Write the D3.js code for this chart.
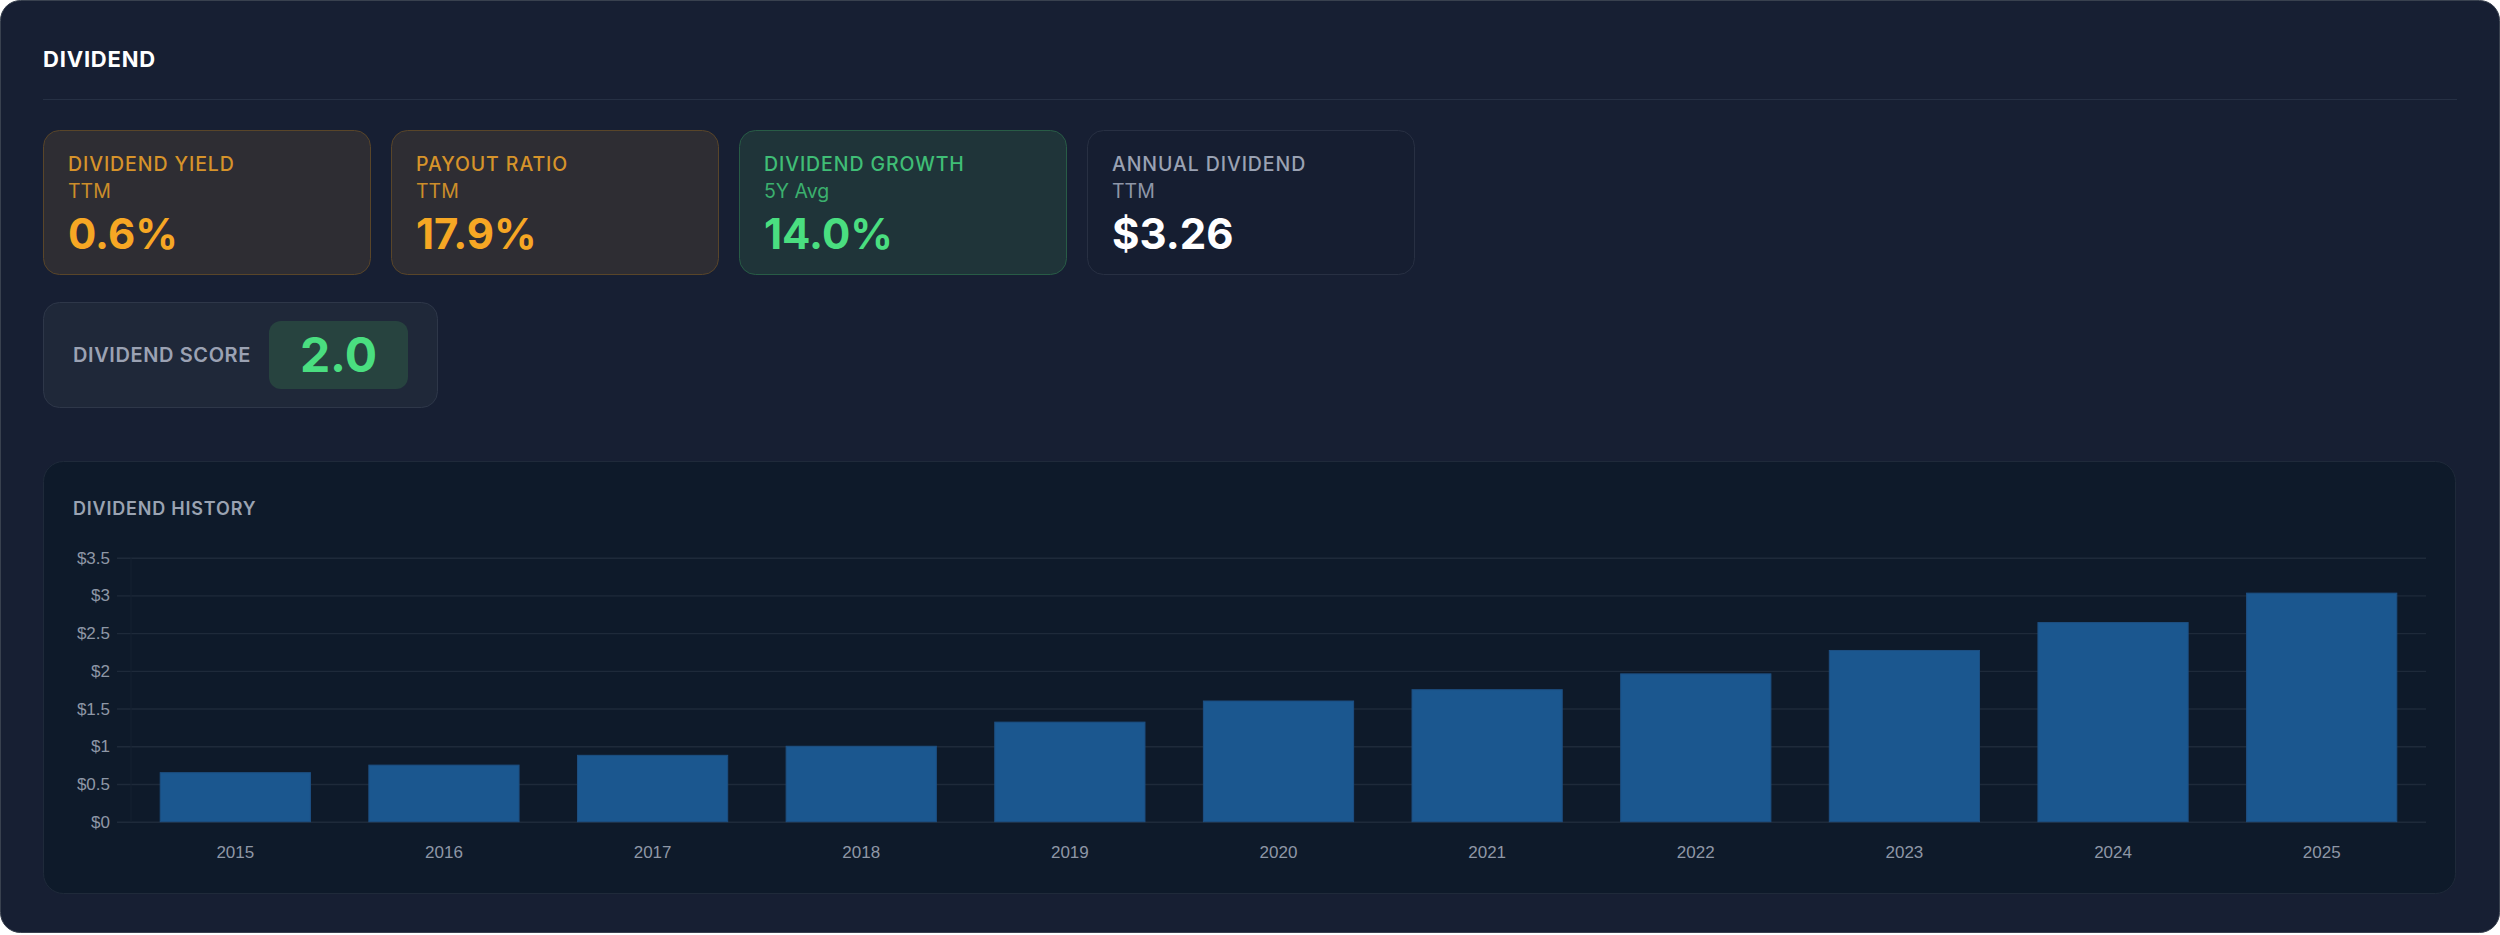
<!DOCTYPE html>
<html>
<head>
<meta charset="utf-8">
<script src="https://cdn.jsdelivr.net/npm/d3@7.9.0/dist/d3.min.js"></script>
<style>
  html, body { margin: 0; padding: 0; background: #ffffff; }
  svg { display: block; }
  .ui { font-family: Inter, "Noto Sans", sans-serif; }
  .axis { font-family: "Liberation Sans", Arial, sans-serif; }
</style>
</head>
<body>
<div id="chart"></div>
<script>
// Chart data
const years = ['2015', '2016', '2017', '2018', '2019', '2020', '2021', '2022', '2023', '2024', '2025'];
const dividends = [0.65, 0.75, 0.88, 1.00, 1.32, 1.60, 1.75, 1.96, 2.27, 2.64, 3.03];
const yTicks = [0, 0.5, 1, 1.5, 2, 2.5, 3, 3.5];

// Metric cards
const metricLabels = ['DIVIDEND YIELD', 'PAYOUT RATIO', 'DIVIDEND GROWTH', 'ANNUAL DIVIDEND'];
const metricSubs = ['TTM', 'TTM', '5Y Avg', 'TTM'];
const metricValues = ['0.6%', '17.9%', '14.0%', '$3.26'];
const metricTones = ['amber', 'amber', 'green', 'neutral'];

const scoreLabel = 'DIVIDEND SCORE';
const scoreValue = '2.0';

const tones = {
  amber:   { bg: '#2e2d33', border: '#594529', label: '#d6932a', sub: '#cc8d2a', value: '#f6a724' },
  green:   { bg: '#1f3439', border: '#285c46', label: '#3fbe76', sub: '#3bb06e', value: '#4ade80' },
  neutral: { bg: '#161e31', border: '#283043', label: '#9aa2b3', sub: '#8e96a7', value: '#ffffff' }
};

const width = 2500;
const height = 935;

const svg = d3.select('#chart')
  .append('svg')
  .attr('width', width)
  .attr('height', height);

// Outer panel
svg.append('rect')
  .attr('x', 0.5).attr('y', 0.5)
  .attr('width', width - 1).attr('height', 932)
  .attr('rx', 20)
  .attr('fill', '#171f33')
  .attr('stroke', '#39414f');

svg.append('text')
  .attr('class', 'ui')
  .attr('x', 43).attr('y', 67)
  .attr('fill', '#ffffff')
  .attr('font-size', 22)
  .attr('font-weight', 700)
  .attr('letter-spacing', 0.8)
  .text('DIVIDEND');

svg.append('line')
  .attr('x1', 43).attr('x2', 2457)
  .attr('y1', 99.5).attr('y2', 99.5)
  .attr('stroke', '#263044');

// Metric cards
const cardW = 328, cardH = 145, cardGap = 20;
const metrics = metricLabels.map((label, i) => ({
  label, sub: metricSubs[i], value: metricValues[i], tone: tones[metricTones[i]]
}));

const cards = svg.append('g')
  .selectAll('g')
  .data(metrics)
  .join('g')
  .attr('transform', (d, i) => `translate(${43 + i * (cardW + cardGap)}, 130)`);

cards.append('rect')
  .attr('x', 0.5).attr('y', 0.5)
  .attr('width', cardW - 1).attr('height', cardH - 1)
  .attr('rx', 16)
  .attr('fill', d => d.tone.bg)
  .attr('stroke', d => d.tone.border);

cards.append('text')
  .attr('class', 'ui')
  .attr('x', 25).attr('y', 41)
  .attr('font-size', 19.5)
  .attr('font-weight', 500)
  .attr('letter-spacing', 0.9)
  .attr('fill', d => d.tone.label)
  .text(d => d.label);

cards.append('text')
  .attr('class', 'ui')
  .attr('x', 25).attr('y', 68)
  .attr('font-size', 19.5)
  .attr('font-weight', 400)
  .attr('fill', d => d.tone.sub)
  .text(d => d.sub);

cards.append('text')
  .attr('class', 'ui')
  .attr('x', 25).attr('y', 119)
  .attr('font-size', 42)
  .attr('font-weight', 700)
  .attr('fill', d => d.tone.value)
  .text(d => d.value);

// Score card
const score = svg.append('g').attr('transform', 'translate(43, 302)');

score.append('rect')
  .attr('x', 0.5).attr('y', 0.5)
  .attr('width', 394).attr('height', 105)
  .attr('rx', 16)
  .attr('fill', '#1f2839')
  .attr('stroke', '#2e3749');

score.append('text')
  .attr('class', 'ui')
  .attr('x', 30).attr('y', 60)
  .attr('font-size', 20)
  .attr('font-weight', 600)
  .attr('letter-spacing', 0.6)
  .attr('fill', '#9ba2b3')
  .text(scoreLabel);

score.append('rect')
  .attr('x', 226).attr('y', 19)
  .attr('width', 139).attr('height', 68)
  .attr('rx', 12)
  .attr('fill', '#27433f');

score.append('text')
  .attr('class', 'ui')
  .attr('x', 226 + 139 / 2).attr('y', 70)
  .attr('text-anchor', 'middle')
  .attr('font-size', 48)
  .attr('font-weight', 700)
  .attr('fill', '#4ade80')
  .text(scoreValue);

// History chart panel
svg.append('rect')
  .attr('x', 43.5).attr('y', 461.5)
  .attr('width', 2412).attr('height', 432)
  .attr('rx', 20)
  .attr('fill', '#0e1a2a')
  .attr('stroke', '#1f2a3a');

svg.append('text')
  .attr('class', 'ui')
  .attr('x', 73).attr('y', 515)
  .attr('font-size', 18)
  .attr('font-weight', 600)
  .attr('letter-spacing', 0.8)
  .attr('fill', '#9aa3b2')
  .text('DIVIDEND HISTORY');

const plot = { left: 131, right: 2426, top: 557.7, bottom: 821.7 };

const x = d3.scaleBand()
  .domain(years)
  .range([plot.left, plot.right])
  .paddingInner(0.28)
  .paddingOuter(0.14);

const y = d3.scaleLinear()
  .domain([0, 3.5])
  .range([plot.bottom, plot.top]);

// Gridlines
svg.append('g')
  .attr('transform', `translate(${plot.left}, 0)`)
  .call(d3.axisLeft(y)
    .tickValues(yTicks)
    .tickFormat('')
    .tickSize(-(plot.right - plot.left))
    .tickSizeOuter(0))
  .call(g => g.select('.domain').remove())
  .call(g => g.selectAll('.tick line')
    .attr('stroke', '#1e2a3a')
    .attr('stroke-width', 1.4)
    .attr('x1', -14));

// Y axis line
svg.append('line')
  .attr('x1', plot.left).attr('x2', plot.left)
  .attr('y1', plot.top).attr('y2', plot.bottom)
  .attr('stroke', '#152030');

// Y labels
svg.append('g')
  .attr('class', 'axis')
  .attr('transform', `translate(${plot.left}, 0)`)
  .call(d3.axisLeft(y)
    .tickValues(yTicks)
    .tickSize(0)
    .tickPadding(21)
    .tickFormat(d => '$' + d))
  .call(g => g.select('.domain').remove())
  .call(g => g.selectAll('text')
    .attr('font-size', 17)
    .attr('font-family', '"Liberation Sans", Arial, sans-serif')
    .attr('fill', '#8e97a6'));

// Bars
svg.append('g')
  .selectAll('rect')
  .data(years.map((year, i) => ({ year, value: dividends[i] })))
  .join('rect')
  .attr('x', d => x(d.year))
  .attr('y', d => y(d.value))
  .attr('width', x.bandwidth())
  .attr('height', d => y(0) - y(d.value))
  .attr('fill', '#1b578f')
  .attr('stroke', '#1d4f82')
  .attr('stroke-width', 1);

// X labels
svg.append('g')
  .attr('class', 'axis')
  .attr('transform', `translate(0, ${plot.bottom})`)
  .call(d3.axisBottom(x).tickSize(0).tickPadding(24))
  .call(g => g.select('.domain').remove())
  .call(g => g.selectAll('text')
    .attr('font-size', 17)
    .attr('font-family', '"Liberation Sans", Arial, sans-serif')
    .attr('fill', '#8e97a6'));
</script>
</body>
</html>
